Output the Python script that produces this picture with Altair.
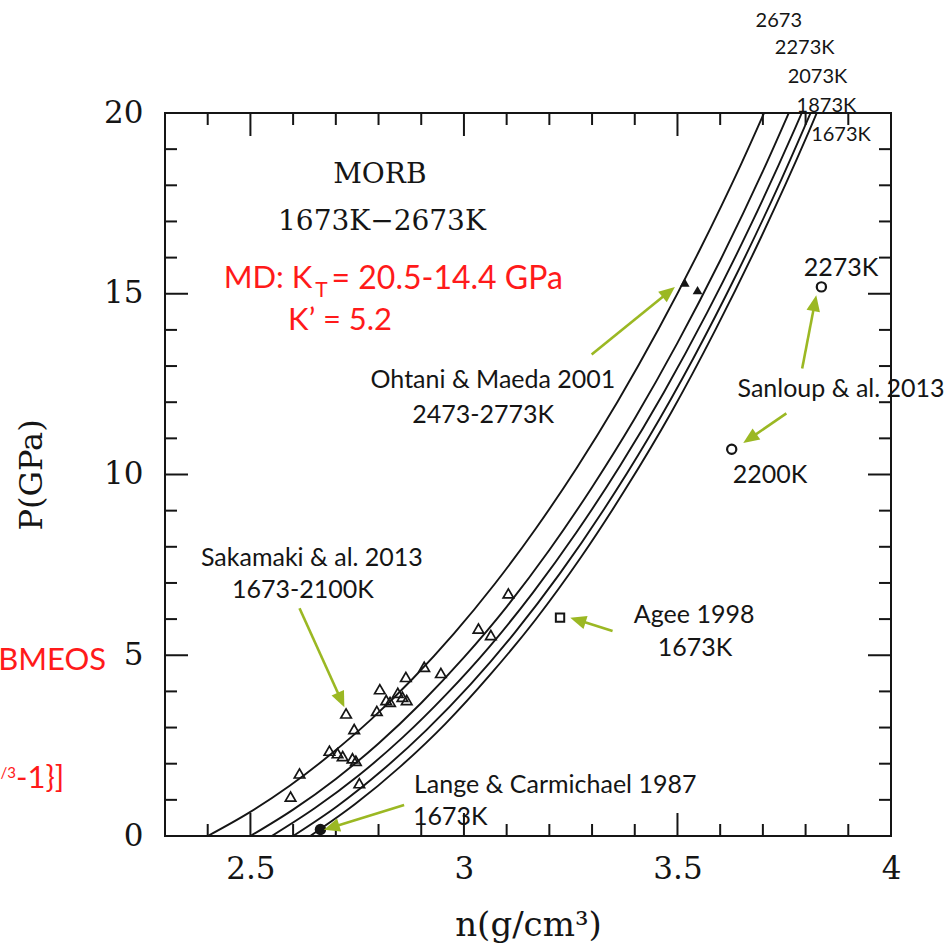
import math
import altair as alt
import pandas as pd

# ---------------- isotherms: density n (g/cm3) vs pressure P (GPa) ----------------
n_2673 = [2.400, 2.496, 2.592, 2.688, 2.784, 2.880, 2.976, 3.072, 3.168, 3.264, 3.360, 3.456, 3.552, 3.648, 3.744]
p_2673 = [0.00, 0.64, 1.39, 2.26, 3.24, 4.35, 5.59, 6.97, 8.50, 10.18, 12.02, 14.03, 16.21, 18.56, 21.11]
n_2273 = [2.500, 2.600, 2.700, 2.800, 2.900, 3.000, 3.100, 3.200, 3.300, 3.400, 3.500, 3.600, 3.700, 3.800]
p_2273 = [0.00, 0.73, 1.58, 2.56, 3.68, 4.94, 6.34, 7.91, 9.65, 11.55, 13.64, 15.92, 18.39, 21.07]
n_2073 = [2.550, 2.652, 2.754, 2.856, 2.958, 3.060, 3.162, 3.264, 3.366, 3.468, 3.570, 3.672, 3.774, 3.876]
p_2073 = [0.00, 0.78, 1.68, 2.72, 3.91, 5.24, 6.74, 8.41, 10.25, 12.27, 14.49, 16.91, 19.54, 22.38]
n_1873 = [2.600, 2.704, 2.808, 2.912, 3.016, 3.120, 3.224, 3.328, 3.432, 3.536, 3.640, 3.744, 3.848]
p_1873 = [0.00, 0.83, 1.81, 2.93, 4.20, 5.64, 7.25, 9.04, 11.01, 13.19, 15.58, 18.18, 21.00]
n_1673 = [2.640, 2.746, 2.851, 2.957, 3.062, 3.168, 3.274, 3.379, 3.485, 3.590, 3.696, 3.802, 3.907]
p_1673 = [0.00, 0.89, 1.92, 3.11, 4.47, 5.99, 7.71, 9.61, 11.71, 14.03, 16.57, 19.33, 22.33]

# ---------------- experimental data ----------------
sakamaki_n = [2.594, 2.615, 2.685, 2.704, 2.716, 2.739, 2.747, 2.755, 2.743, 2.724, 2.796, 2.803,
              2.818, 2.827, 2.845, 2.856, 2.866, 2.864, 2.907, 2.946, 3.034, 3.063, 3.104]
sakamaki_p = [1.09, 1.73, 2.36, 2.29, 2.21, 2.15, 2.08, 1.46, 2.96, 3.39, 3.46, 4.06,
              3.76, 3.71, 3.96, 3.85, 3.76, 4.40, 4.68, 4.51, 5.74, 5.56, 6.71]
ohtani_n = [3.517, 3.547]
ohtani_p = [15.31, 15.10]
sanloup_n = [3.837, 3.627]
sanloup_p = [15.19, 10.70]
agee_n = [3.225]
agee_p = [6.04]
lange_n = [2.664]
lange_p = [0.18]

# ---------------- annotation arrows (tail -> tip) ----------------
arrow_tail_n = [3.299, 3.792, 3.755, 2.615, 2.860, 3.348]
arrow_tail_p = [13.32, 12.93, 11.69, 6.30, 0.86, 5.67]
arrow_tip_n = [3.494, 3.825, 3.654, 2.720, 2.672, 3.249]
arrow_tip_p = [15.19, 14.96, 10.87, 3.56, 0.17, 6.04]

# ---------------- axis ticks ----------------
x_major = [2.5, 3.0, 3.5]
x_minor = [2.4, 2.6, 2.7, 2.8, 2.9, 3.1, 3.2, 3.3, 3.4, 3.6, 3.7, 3.8, 3.9]
y_major = [5, 10, 15]
y_minor = [1, 2, 3, 4, 6, 7, 8, 9, 11, 12, 13, 14, 16, 17, 18, 19]
x_labels = [2.5, 3.0, 3.5, 4.0]
y_labels = [0, 5, 10, 15, 20]

# ---------------- layout ----------------
W, H = 726, 723
X_DOMAIN = [2.3, 4.0]
Y_DOMAIN = [0, 20]
PX_N = W / (X_DOMAIN[1] - X_DOMAIN[0])
PX_P = H / (Y_DOMAIN[1] - Y_DOMAIN[0])

INK = "#151515"
GREEN = "#9bb823"
RED = "#ff1a1a"
SERIF = "DejaVu Serif"
SANS = "Lato"

xs = alt.Scale(domain=X_DOMAIN, nice=False, zero=False)
ys = alt.Scale(domain=Y_DOMAIN, nice=False, zero=False)

# one shared axis definition per direction, repeated on every layer so they merge
x_axis = alt.Axis(
    values=x_labels, format="~g", title="n(g/cm³)", ticks=False, domain=False, grid=False,
    labelFont=SERIF, labelFontSize=31, labelPadding=18, labelColor=INK, labelFlush=False,
    titleFont=SERIF, titleFontSize=34, titleFontWeight="normal", titleColor=INK, titlePadding=24)
y_axis = alt.Axis(
    values=y_labels, format="d", title="P(GPa)", ticks=False, domain=False, grid=False,
    labelFont=SERIF, labelFontSize=31, labelPadding=22, labelColor=INK, labelFlush=False,
    titleFont=SERIF, titleFontSize=32, titleFontWeight="normal", titleColor=INK, titlePadding=55)


def X(field="n"):
    return alt.X(f"{field}:Q", scale=xs, axis=x_axis)


def Y(field="P"):
    return alt.Y(f"{field}:Q", scale=ys, axis=y_axis)


# isotherm curves
curve_rows = []
for name, ns, ps in [("2673K", n_2673, p_2673), ("2273K", n_2273, p_2273), ("2073K", n_2073, p_2073),
                     ("1873K", n_1873, p_1873), ("1673K", n_1673, p_1673)]:
    for i, (a, b) in enumerate(zip(ns, ps)):
        curve_rows.append({"T": name, "n": a, "P": b, "i": i})
curves_df = pd.DataFrame(curve_rows)

curves = alt.Chart(curves_df).mark_line(
    interpolate="monotone", clip=True, strokeWidth=1.9, color=INK
).encode(x=X(), y=Y(), detail="T:N", order="i:Q")

# inward-pointing ticks on all four sides of the frame
tick_layers = []
for vals, length in [(x_major, 23), (x_minor, 12)]:
    df = pd.DataFrame({"v": vals})
    tick_layers.append(alt.Chart(df).mark_rule(color=INK, strokeWidth=2).encode(
        x=X("v"), y=alt.value(H), y2=alt.value(H - length)))
    tick_layers.append(alt.Chart(df).mark_rule(color=INK, strokeWidth=2).encode(
        x=X("v"), y=alt.value(0), y2=alt.value(length)))
for vals, length in [(y_major, 23), (y_minor, 12)]:
    df = pd.DataFrame({"v": vals})
    tick_layers.append(alt.Chart(df).mark_rule(color=INK, strokeWidth=2).encode(
        y=Y("v"), x=alt.value(0), x2=alt.value(length)))
    tick_layers.append(alt.Chart(df).mark_rule(color=INK, strokeWidth=2).encode(
        y=Y("v"), x=alt.value(W), x2=alt.value(W - length)))

# data markers
sakamaki = alt.Chart(pd.DataFrame({"n": sakamaki_n, "P": sakamaki_p})).mark_point(
    shape="triangle-up", size=110, filled=False, stroke=INK, strokeWidth=1.7, opacity=1
).encode(x=X(), y=Y())
ohtani = alt.Chart(pd.DataFrame({"n": ohtani_n, "P": ohtani_p})).mark_point(
    shape="triangle-up", size=95, filled=True, color=INK, opacity=1
).encode(x=X(), y=Y())
sanloup = alt.Chart(pd.DataFrame({"n": sanloup_n, "P": sanloup_p})).mark_point(
    shape="circle", size=85, filled=False, stroke=INK, strokeWidth=2.2, opacity=1
).encode(x=X(), y=Y())
agee = alt.Chart(pd.DataFrame({"n": agee_n, "P": agee_p})).mark_point(
    shape="square", size=70, filled=False, stroke=INK, strokeWidth=2, opacity=1
).encode(x=X(), y=Y())
lange = alt.Chart(pd.DataFrame({"n": lange_n, "P": lange_p})).mark_point(
    shape="circle", size=130, filled=True, color=INK, opacity=1
).encode(x=X(), y=Y())

# arrows: shaft + filled head whose tip sits on the target point
HEAD = 16.0
arrow_rows = []
for n0, p0, n1, p1 in zip(arrow_tail_n, arrow_tail_p, arrow_tip_n, arrow_tip_p):
    dx = (n1 - n0) * PX_N
    dy = -(p1 - p0) * PX_P
    L = math.hypot(dx, dy)
    ux, uy = dx / L, dy / L
    ang = math.degrees(math.atan2(dx, -dy)) % 360
    end_n = n1 - ux * HEAD * 0.6 / PX_N
    end_p = p1 + uy * HEAD * 0.6 / PX_P
    arrow_rows.append({"n0": n0, "p0": p0, "n1": end_n, "p1": end_p,
                       "tn": n1, "tp": p1, "ang": ang})
arrows_df = pd.DataFrame(arrow_rows)
shafts = alt.Chart(arrows_df).mark_rule(color=GREEN, strokeWidth=2.6).encode(
    x=X("n0"), y=Y("p0"), x2="n1:Q", y2="p1:Q")
heads = alt.Chart(arrows_df).mark_point(
    shape="M0,0L-0.85,2L0.85,2Z", size=HEAD * HEAD, filled=True, color=GREEN, opacity=1
).encode(x=X("tn"), y=Y("tp"), angle=alt.Angle("ang:Q", scale=None))


def text_layer(ns, ps, texts, align, size, color, font):
    df = pd.DataFrame({"n": ns, "P": ps, "label": texts})
    return alt.Chart(df).mark_text(
        align=align, baseline="middle", fontSize=size, font=font, color=color
    ).encode(x=X(), y=Y(), text="label:N")


texts = [
    text_layer([2.803, 2.808], [18.28, 16.98], ["MORB", "1673K−2673K"], "center", 28, INK, SERIF),
    text_layer([2.645], [15.41], ["MD: K"], "right", 31, RED, SANS),
    text_layer([2.652], [15.08], ["T"], "left", 21, RED, SANS),
    text_layer([2.690], [15.41], ["= 20.5-14.4 GPa"], "left", 32, RED, SANS),
    text_layer([2.710], [14.25], ["K’ = 5.2"], "center", 31, RED, SANS),
    text_layer([2.162], [4.84], ["BMEOS"], "right", 31, RED, SANS),
    text_layer([2.064], [1.58], ["-1}]"], "right", 31, RED, SANS),
    text_layer([1.951], [1.74], ["/3"], "right", 15, RED, SANS),
    text_layer([3.068, 3.045, 3.883, 3.883, 3.717, 2.644, 2.623, 3.539, 3.541],
               [12.61, 11.65, 12.37, 15.71, 9.99, 7.69, 6.80, 6.11, 5.20],
               ["Ohtani & Maeda 2001", "2473-2773K", "Sanloup & al. 2013", "2273K", "2200K",
                "Sakamaki & al. 2013", "1673-2100K", "Agee 1998", "1673K"],
               "center", 25, INK, SANS),
    text_layer([2.883, 2.881], [1.41, 0.53], ["Lange & Carmichael 1987", "1673K"], "left", 25, INK, SANS),
    text_layer([3.683, 3.728, 3.758, 3.779, 3.813], [22.54, 21.80, 21.00, 20.20, 19.40],
               ["2673", "2273K", "2073K", "1873K", "1673K"], "left", 20, INK, SANS),
]

chart = alt.layer(
    curves, *tick_layers, sakamaki, ohtani, sanloup, agee, lange, shafts, heads, *texts
).properties(
    width=W, height=H,
    padding={"left": 165, "top": 113, "right": 60, "bottom": 113},
    autosize=alt.AutoSizeParams(type="none"),
    background="white",
).configure_view(stroke=INK, strokeWidth=2)

chart.save("out.html", embed_options={"renderer": "svg", "actions": False})
